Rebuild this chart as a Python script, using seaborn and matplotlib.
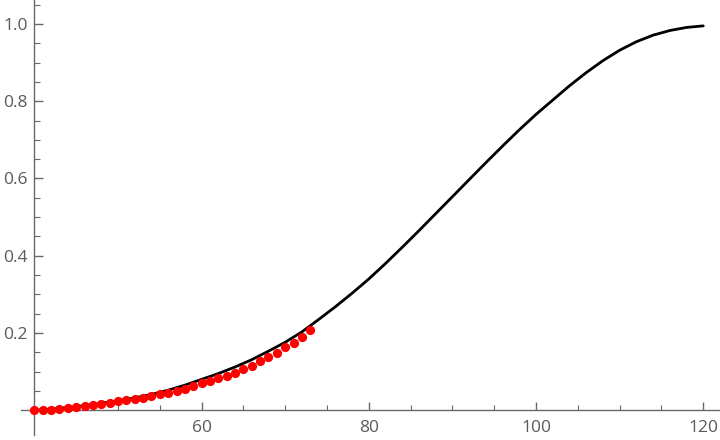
import numpy as np
import pandas as pd
import matplotlib
matplotlib.use("Agg")
import matplotlib.pyplot as plt
import seaborn as sns

# curva continua
curve_x = [40, 42, 44, 46, 48, 50, 52, 54, 56, 58, 60, 62, 64, 66, 68, 70,
           72, 74, 76, 78, 80, 82, 84, 86, 88, 90, 92, 94, 96, 98, 100,
           102, 104, 106, 108, 110, 112, 114, 116, 118, 120]
curve_y = [0.000, 0.003, 0.007, 0.012, 0.018, 0.025, 0.032, 0.041, 0.052,
           0.065, 0.080, 0.095, 0.112, 0.131, 0.153, 0.176, 0.203, 0.235,
           0.268, 0.303, 0.340, 0.380, 0.422, 0.465, 0.509, 0.553, 0.597,
           0.641, 0.684, 0.726, 0.766, 0.803, 0.840, 0.874, 0.905, 0.932,
           0.954, 0.971, 0.983, 0.991, 0.995]

# puntos observados
obs_x = list(range(40, 74))
obs_y = [0.000, 0.001, 0.002, 0.004, 0.006, 0.008, 0.011, 0.014, 0.017,
         0.020, 0.023, 0.026, 0.029, 0.033, 0.037, 0.041, 0.045, 0.050,
         0.056, 0.063, 0.070, 0.076, 0.083, 0.090, 0.097, 0.106, 0.115,
         0.127, 0.138, 0.149, 0.163, 0.175, 0.190, 0.207]

x_ticks = [60, 80, 100, 120]
y_ticks = [0.2, 0.4, 0.6, 0.8, 1.0]


def main():
    sns.set_style("white")
    plt.rcParams["font.family"] = ["Open Sans", "DejaVu Sans"]

    curve = pd.DataFrame({"x": curve_x, "y": curve_y})
    obs = pd.DataFrame({"x": obs_x, "y": obs_y})

    fig = plt.figure(figsize=(7.2, 4.4), dpi=100)
    ax = fig.add_axes([21 / 720, 5 / 440, 699 / 720, 435 / 440])

    sns.lineplot(data=curve, x="x", y="y", color="black", linewidth=2.0, ax=ax, zorder=2)
    sns.scatterplot(data=obs, x="x", y="y", color="#ff0000", s=44, linewidth=0,
                    ax=ax, zorder=3, clip_on=False)

    ax.set_xlim(38.4, 122.0)
    ax.set_ylim(-0.064, 1.062)

    # ejes estilo Mathematica
    gray = "#6a6a6a"
    ax.spines["left"].set_position(("data", 40))
    ax.spines["bottom"].set_position(("data", 0))
    ax.spines["top"].set_visible(False)
    ax.spines["right"].set_visible(False)
    for s in ["left", "bottom"]:
        ax.spines[s].set_color(gray)
        ax.spines[s].set_linewidth(1.0)

    ax.set_xticks(x_ticks)
    ax.set_xticklabels([str(t) for t in x_ticks])
    ax.set_yticks(y_ticks)
    ax.set_yticklabels([f"{t:.1f}" for t in y_ticks])
    ax.set_xticks([t for t in np.arange(45, 121, 5) if t % 20 != 0], minor=True)
    ax.set_yticks([t for t in np.arange(0.05, 1.06, 0.05)
                   if abs(t / 0.2 - round(t / 0.2)) > 1e-6], minor=True)

    ax.tick_params(axis="both", which="both", direction="in", colors=gray,
                   labelcolor="#5a5a5a", labelsize=12.5,
                   bottom=True, left=True, top=False, right=False)
    ax.tick_params(axis="x", which="major", length=6, width=1.0, pad=7)
    ax.tick_params(axis="x", which="minor", length=3.5, width=0.8)
    ax.tick_params(axis="y", which="major", length=6.5, width=1.0, pad=5)
    ax.tick_params(axis="y", which="minor", length=4.5, width=0.8)

    ax.set_xlabel("")
    ax.set_ylabel("")

    fig.savefig("out.png", dpi=100)


if __name__ == "__main__":
    main()
